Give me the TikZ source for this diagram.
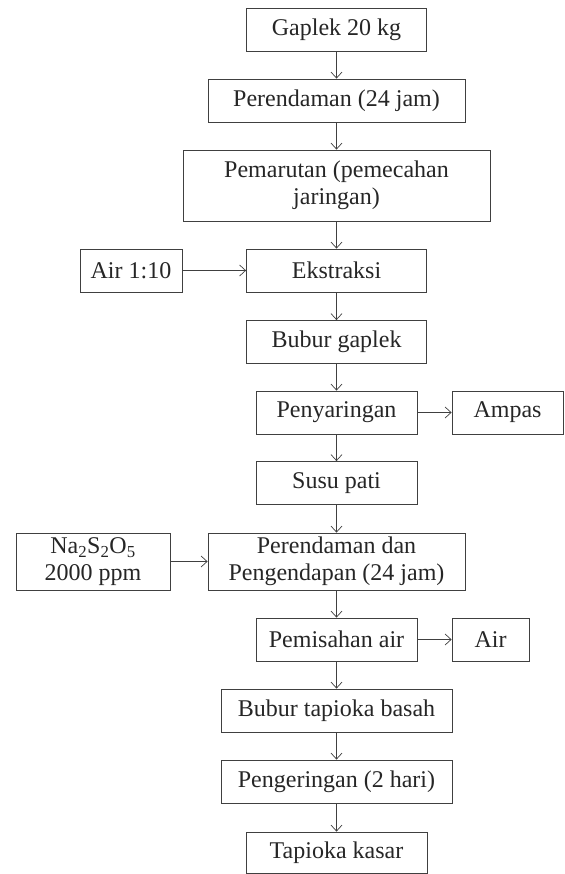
\documentclass[tikz,border=0pt]{standalone}
\usepackage{fontspec}
\setmainfont{Liberation Serif}
\usetikzlibrary{arrows.meta}
\definecolor{linegray}{HTML}{404040}
\begin{document}
\begin{tikzpicture}[x=1pt,y=-1pt,
  box/.style={draw=linegray,line width=0.8pt,rectangle,inner sep=0pt,align=center,
    font=\fontsize{24}{27}\selectfont,text=black!85},
  arr/.style={draw=linegray,line width=0.7pt,-{Straight Barb[length=6pt,width=11pt,line width=0.7pt]}}]
\useasboundingbox (0,0) rectangle (564,874);
\node[box,minimum width=180pt,minimum height=43pt] (g1) at (336.5,29.5) {Gaplek 20 kg};
\node[box,minimum width=257pt,minimum height=43pt] (g2) at (336.5,100.5) {Perendaman (24 jam)};
\node[box,minimum width=307pt,minimum height=71pt] (g3) at (336.5,185.5) {Pemarutan (pemecahan\\jaringan)};
\node[box,minimum width=102pt,minimum height=43pt] (air1) at (131,270.5) {Air 1:10};
\node[box,minimum width=180pt,minimum height=43pt] (g4) at (336.5,270.5) {Ekstraksi};
\node[box,minimum width=180pt,minimum height=43pt] (g5) at (336.5,342) {Bubur gaplek};
\node[box,minimum width=161pt,minimum height=43pt] (g6) at (336.5,412.5) {Penyaringan};
\node[box,minimum width=111pt,minimum height=43pt] (ampas) at (507.5,412.5) {Ampas};
\node[box,minimum width=161pt,minimum height=43pt] (g7) at (336.5,483) {Susu pati};
\node[box,minimum width=154pt,minimum height=57pt] (na) at (93,561.5) {Na\textsubscript{2}S\textsubscript{2}O\textsubscript{5}\\2000 ppm};
\node[box,minimum width=257pt,minimum height=57pt] (g8) at (336.5,561.5) {Perendaman dan\\Pengendapan (24 jam)};
\node[box,minimum width=161pt,minimum height=43pt] (g9) at (336.5,639.5) {Pemisahan air};
\node[box,minimum width=77pt,minimum height=43pt] (air2) at (490.5,639.5) {Air};
\node[box,minimum width=231pt,minimum height=43pt] (g10) at (336.5,710.5) {Bubur tapioka basah};
\node[box,minimum width=231pt,minimum height=43pt] (g11) at (336.5,781.5) {Pengeringan (2 hari)};
\node[box,minimum width=181pt,minimum height=41pt] (g12) at (336.5,852.5) {Tapioka kasar};
\foreach \a/\b in {g1/g2,g2/g3,g3/g4,g4/g5,g5/g6,g6/g7,g7/g8,g8/g9,g9/g10,g10/g11,g11/g12}
  \draw[arr] (\a.south) -- (\b.north);
\draw[arr] (air1.east) -- (g4.west);
\draw[arr] (g6.east) -- (ampas.west);
\draw[arr] (na.east) -- (g8.west);
\draw[arr] (g9.east) -- (air2.west);
\end{tikzpicture}
\end{document}
